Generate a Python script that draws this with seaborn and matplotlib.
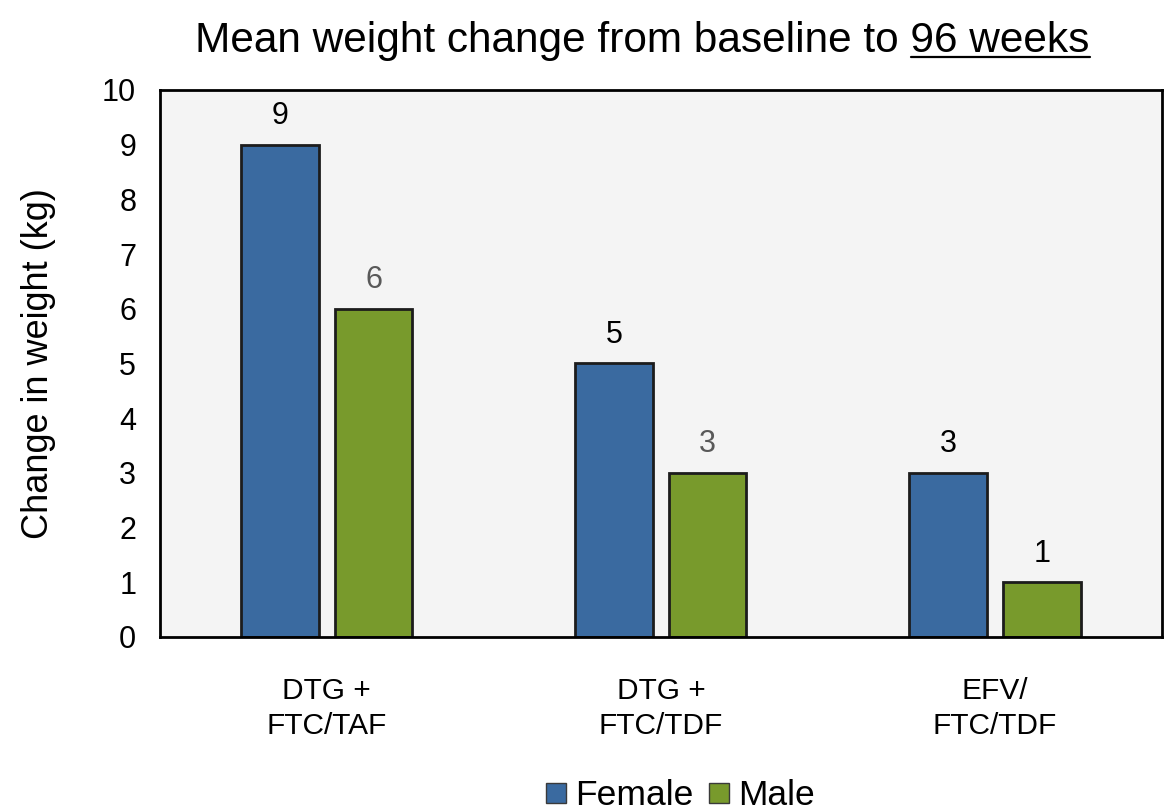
import numpy as np
import pandas as pd
import matplotlib
matplotlib.use("Agg")
import matplotlib.pyplot as plt
from matplotlib.lines import Line2D
import seaborn as sns

# datos
regimens = ["DTG +\nFTC/TAF", "DTG +\nFTC/TDF", "EFV/\nFTC/TDF"]
female = [9, 5, 3]
male = [6, 3, 1]
sexes = ["Female", "Male"]
y_ticks = list(range(0, 11))

sns.set_theme(style="white")
plt.rcParams["font.family"] = ["Liberation Sans", "DejaVu Sans"]
for k in ["text.color", "axes.labelcolor", "xtick.color", "ytick.color"]:
    plt.rcParams[k] = "black"

colors = {"Female": "#3a6aa0", "Male": "#789a2c"}

df = pd.DataFrame({
    "regimen": regimens * 2,
    "sex": ["Female"] * len(regimens) + ["Male"] * len(regimens),
    "value": female + male,
})

fig = plt.figure(figsize=(11.66, 8.1), dpi=100)
ax = fig.add_axes([0.137, 0.2136, 0.8596, 0.6753])
ax.set_facecolor("#f4f4f4")

sns.barplot(
    data=df, x="regimen", y="value", hue="sex",
    order=regimens, hue_order=sexes, palette=colors, saturation=1,
    width=0.56, gap=0.17, edgecolor="#1c1c1c", linewidth=2,
    legend=False, ax=ax,
)

# etiquetas de valor
label_cols = {"Female": ["black", "black", "black"],
              "Male": ["#595959", "#595959", "black"]}
for cont, s in zip(ax.containers, sexes):
    for bar, col in zip(cont, label_cols[s]):
        h = bar.get_height()
        ax.text(bar.get_x() + bar.get_width() / 2, h + 0.25, f"{h:.0f}",
                ha="center", va="bottom", fontsize=22, color=col)

ax.set_ylim(0, 10)
ax.set_xlim(-0.5, 2.5)
ax.set_yticks(y_ticks)
ax.tick_params(axis="y", length=0, labelsize=22, pad=17)
ax.tick_params(axis="x", length=0, labelsize=21.5, pad=29)
for lab in ax.get_xticklabels():
    lab.set_linespacing(1.3)
ax.set_xlabel("")
ax.set_ylabel("Change in weight (kg)", fontsize=26, labelpad=33)

for sp in ax.spines.values():
    sp.set_visible(True)
    sp.set_color("black")
    sp.set_linewidth(2)

# titulo con "96 weeks" subrayado
title_main = "Mean weight change from baseline to "
title_ul = "96 weeks"
t = fig.text(0.551, 0.949, title_main + title_ul, ha="center", va="center",
             fontsize=30.5)
fig.canvas.draw()
r = fig.canvas.get_renderer()
bb = t.get_window_extent(r)
tmp = fig.text(0, 0, title_ul, fontsize=30.5)
ul_w = tmp.get_window_extent(r).width
tmp.remove()
W, H = fig.bbox.width, fig.bbox.height
y_ul = (bb.y0 + 4) / H
fig.add_artist(Line2D([(bb.x1 - ul_w) / W, bb.x1 / W], [y_ul, y_ul],
                      color="black", linewidth=1.6, transform=fig.transFigure))

handles = [Line2D([0], [0], marker="s", linestyle="none", markersize=14,
                  markerfacecolor=colors[s], markeredgecolor="#3a3a3a",
                  markeredgewidth=1) for s in sexes]
fig.legend(handles, sexes, loc="center left", bbox_to_anchor=(0.4525, 0.018),
           ncol=2, frameon=False, fontsize=25.5, handletextpad=0.25,
           columnspacing=0.4, handlelength=0.6, borderpad=0)

fig.savefig("out.png", dpi=100)
